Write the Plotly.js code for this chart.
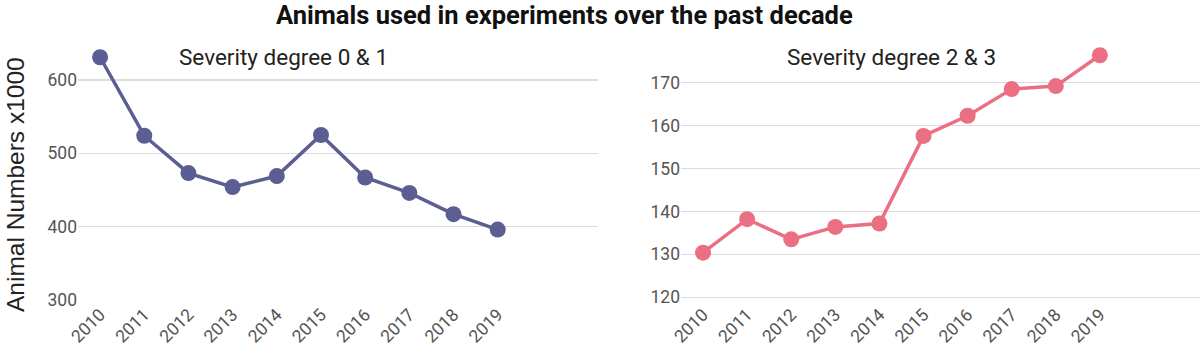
<!DOCTYPE html>
<html>
<head>
<meta charset="utf-8">
<script src="https://cdn.plot.ly/plotly-3.0.1.min.js"></script>
<style>html,body{margin:0;padding:0;background:#fff;}#chart{width:1200px;height:355px;}</style>
</head>
<body>
<div id="chart"></div>
<script>
var years = [2010, 2011, 2012, 2013, 2014, 2015, 2016, 2017, 2018, 2019];
var yearLabels = ["2010","2011","2012","2013","2014","2015","2016","2017","2018","2019"];
var severity01 = [631, 524, 473, 454, 469, 525, 467, 446, 417, 396];
var severity23 = [130.4, 138.2, 133.5, 136.4, 137.2, 157.6, 162.3, 168.5, 169.2, 176.4];
var title01 = "Severity degree 0 & 1";
var title23 = "Severity degree 2 & 3";
var mainTitle = "Animals used in experiments over the past decade";
var yTitle = "Animal Numbers x1000";

var W = 1200, H = 355;
function px(x){ return x / W; }
function py(y){ return (H - y) / H; }

var blue = "#5b5e93", pink = "#eb6f83";
var tickFont = {family: "Roboto, sans-serif", size: 17.5, color: "#555"};

var traces = [
  {x: years, y: severity01, type: "scatter", mode: "lines+markers", xaxis: "x", yaxis: "y",
   line: {color: blue, width: 3.5}, marker: {color: blue, size: 16}, cliponaxis: false, hoverinfo: "skip"},
  {x: years, y: severity23, type: "scatter", mode: "lines+markers", xaxis: "x2", yaxis: "y2",
   line: {color: pink, width: 3.5}, marker: {color: pink, size: 16}, cliponaxis: false, hoverinfo: "skip"}
];

var xCommon = {
  tickvals: years, ticktext: yearLabels, tickangle: -45, tickfont: tickFont,
  showgrid: false, zeroline: false, showline: false, ticks: "", fixedrange: true,
  range: [2009.5, 2021.27]
};
var yCommon = {
  showgrid: true, gridcolor: "#dcdcdc", gridwidth: 1.5, zeroline: false, showline: false,
  ticks: "", tickfont: tickFont, fixedrange: true
};

var layout = {
  width: W, height: H,
  margin: {l: 0, r: 0, t: 0, b: 0},
  paper_bgcolor: "#fff", plot_bgcolor: "#fff",
  showlegend: false,
  xaxis: Object.assign({}, xCommon, {domain: [px(78), px(598)], anchor: "y"}),
  xaxis2: Object.assign({}, xCommon, {domain: [px(681), px(1200)], anchor: "y2"}),
  yaxis: Object.assign({}, yCommon, {domain: [py(300), py(45)], range: [300, 647.7], tickvals: [300, 400, 500, 600], anchor: "x"}),
  yaxis2: Object.assign({}, yCommon, {domain: [py(300), py(45)], range: [119.37, 178.78], tickvals: [120, 130, 140, 150, 160, 170], anchor: "x2"}),
  annotations: [
    {text: "<b>" + mainTitle + "</b>", xref: "paper", yref: "paper", x: px(564), y: py(15),
     xanchor: "center", yanchor: "middle", showarrow: false,
     font: {family: "Roboto, sans-serif", size: 25.5, color: "#111"}},
    {text: title01, xref: "paper", yref: "paper", x: px(283.5), y: py(57),
     xanchor: "center", yanchor: "middle", showarrow: false,
     font: {family: "Roboto, sans-serif", size: 22.5, color: "#222"}},
    {text: title23, xref: "paper", yref: "paper", x: px(891), y: py(57),
     xanchor: "center", yanchor: "middle", showarrow: false,
     font: {family: "Roboto, sans-serif", size: 22.5, color: "#222"}},
    {text: yTitle, xref: "paper", yref: "paper", x: px(15), y: py(185),
     xanchor: "center", yanchor: "middle", showarrow: false, textangle: -90,
     font: {family: "Liberation Sans, Arial, sans-serif", size: 24.5, color: "#222"}}
  ]
};

Plotly.newPlot("chart", traces, layout, {staticPlot: true, displayModeBar: false});
</script>
</body>
</html>
